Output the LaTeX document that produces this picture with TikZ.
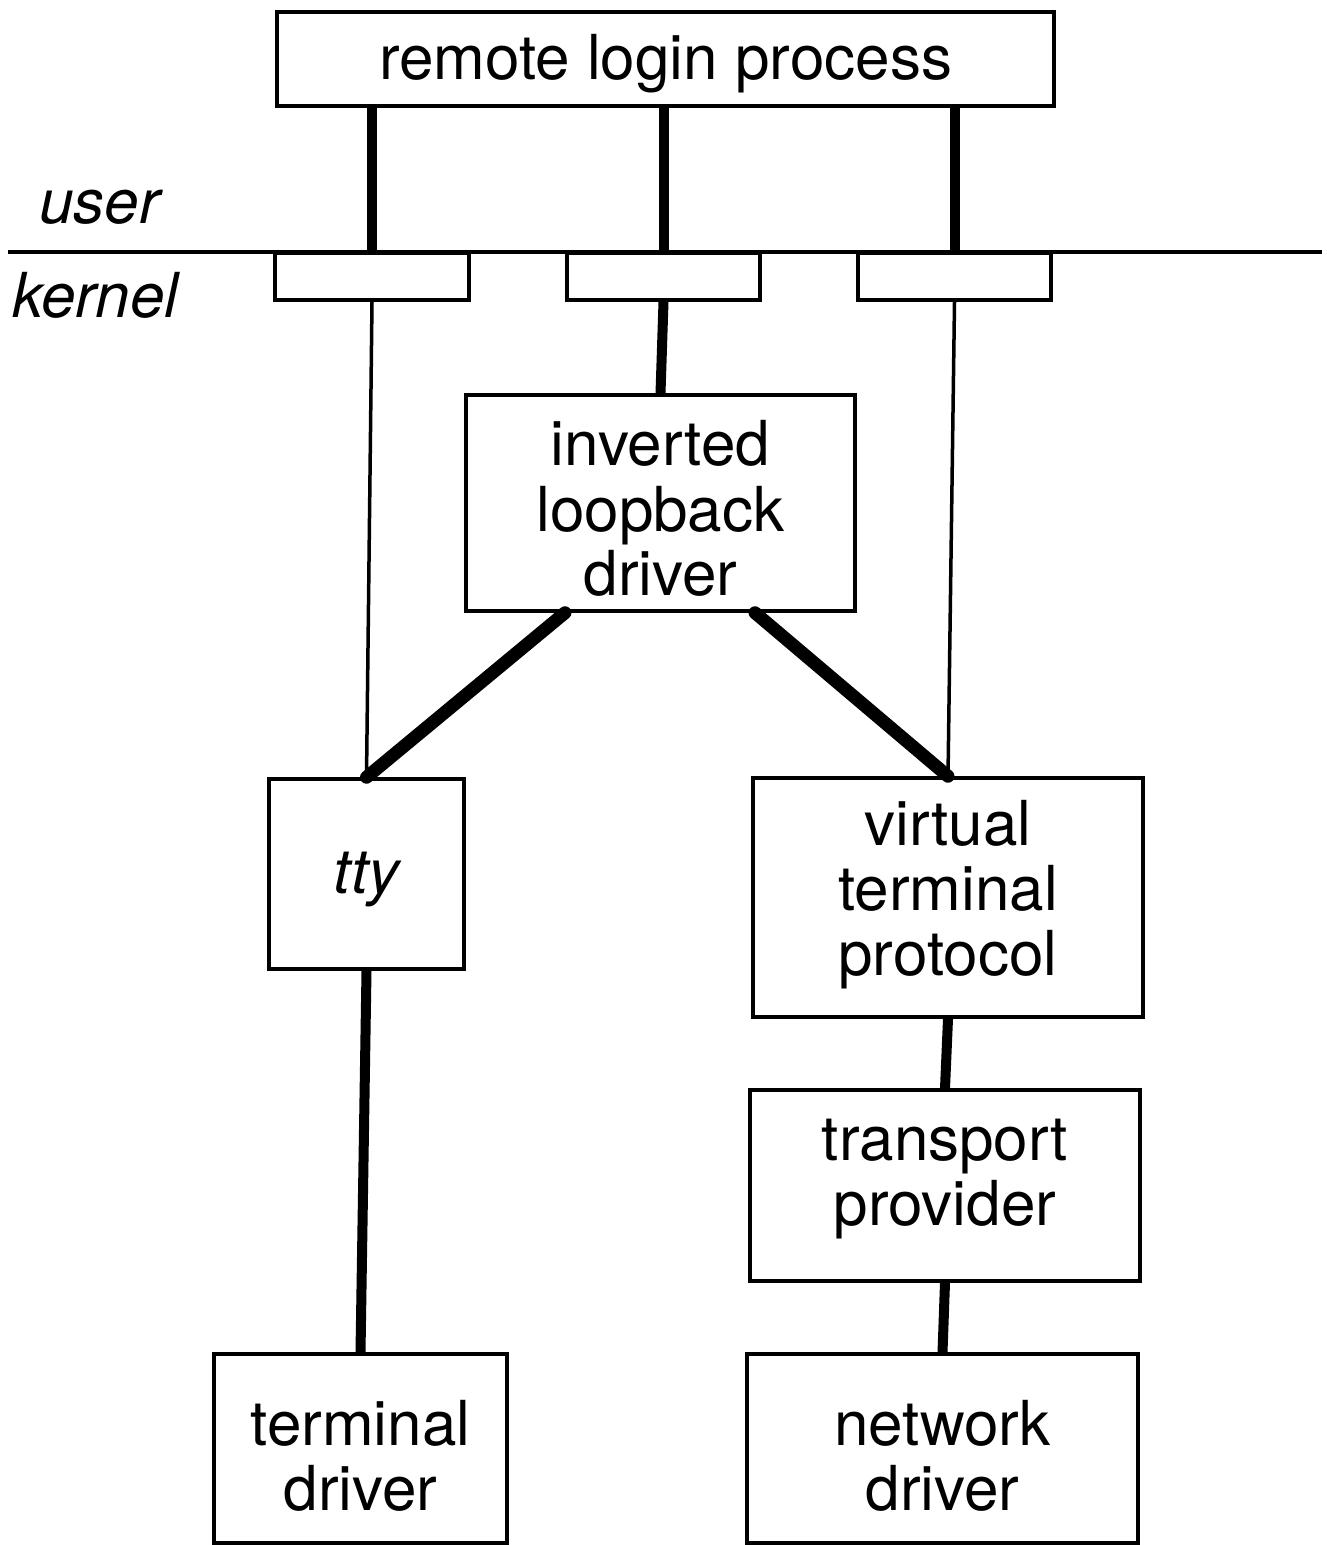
\documentclass[tikz,border=0pt]{standalone}
\usepackage{fontspec}
\setmainfont{TeX Gyre Heros}
\usetikzlibrary{calc}
% box label: centred lines, shifted vertically by the optional amount
\newcommand\boxtext[2][-7.5pt]{\raisebox{#1}[\height][\depth]{\begin{tabular}{@{}c@{}}#2\end{tabular}}}
\begin{document}
\begin{tikzpicture}[x=0.5pt,y=-0.5pt,
  box/.style={draw,line width=1.75pt,inner sep=0pt,
    font=\fontsize{31}{32.5}\selectfont},
  thinlink/.style={line width=1.75pt},
  thicklink/.style={line width=5pt},
  heavylink/.style={line width=6.5pt,line cap=round},
  layer/.style={anchor=base west,inner sep=0pt,
    font=\fontsize{31}{32.5}\selectfont\itshape}]
\useasboundingbox (0,0) rectangle (1326,1545);

% user/kernel boundary
\coordinate (ul) at (8,252);
\coordinate (ur) at (1322,252);
\draw[line width=1.75pt] (ul) -- (ur);
\node[layer] (user) at (39,224) {user};
\node[layer] (kernel) at (12,318) {kernel};

% boxes
\node[box,minimum width=388.5pt,minimum height=47pt] (rlp) at (665.5,59) {\boxtext[-4pt]{remote login process}};
\node[box,minimum width=97pt,minimum height=23.5pt] (s1) at (372,276.5) {};
\node[box,minimum width=96.5pt,minimum height=23.5pt] (s2) at (663.5,276.5) {};
\node[box,minimum width=96.5pt,minimum height=23.5pt] (s3) at (954.5,276.5) {};
\node[box,minimum width=194.5pt,minimum height=108pt] (loop) at (660.5,503) {\boxtext{inverted\\loopback\\driver}};
\node[box,minimum width=97.5pt,minimum height=95pt] (tty) at (366.5,874) {\boxtext[-3pt]{\itshape tty}};
\node[box,minimum width=195pt,minimum height=119.5pt] (vtp) at (948,897.5) {\boxtext[0pt]{virtual\\terminal\\protocol}};
\node[box,minimum width=195pt,minimum height=95.5pt] (tp) at (945,1185.5) {\boxtext[3pt]{transport\\provider}};
\node[box,minimum width=195.5pt,minimum height=94.5pt] (nd) at (942.5,1448.5) {\boxtext[-8pt]{network\\driver}};
\node[box,minimum width=146.5pt,minimum height=94.5pt] (td) at (360.5,1448.5) {\boxtext[-8pt]{terminal\\driver}};

% streams from the login process into the kernel
\draw[thicklink] (s1.north |- rlp.south) -- ($(s1.north)+(0,4)$);
\draw[thicklink] (s2.north |- rlp.south) -- ($(s2.north)+(0,4)$);
\draw[thicklink] (s3.north |- rlp.south) -- ($(s3.north)+(0,4)$);

% kernel links
\draw[thinlink] (s1.south) -- (tty.north);
\draw[thicklink] (s2.south) -- (loop.north);
\draw[thinlink] (s3.south) -- (vtp.north);
\draw[heavylink] ($(loop.south)+(-95.5,0)$) -- (tty.north);
\draw[heavylink] ($(loop.south)+(94.5,0)$) -- (vtp.north);
\draw[thicklink] (vtp.south) -- (tp.north);
\draw[thicklink] (tp.south) -- (nd.north);
\draw[thicklink] (tty.south) -- (td.north);
\end{tikzpicture}
\end{document}
